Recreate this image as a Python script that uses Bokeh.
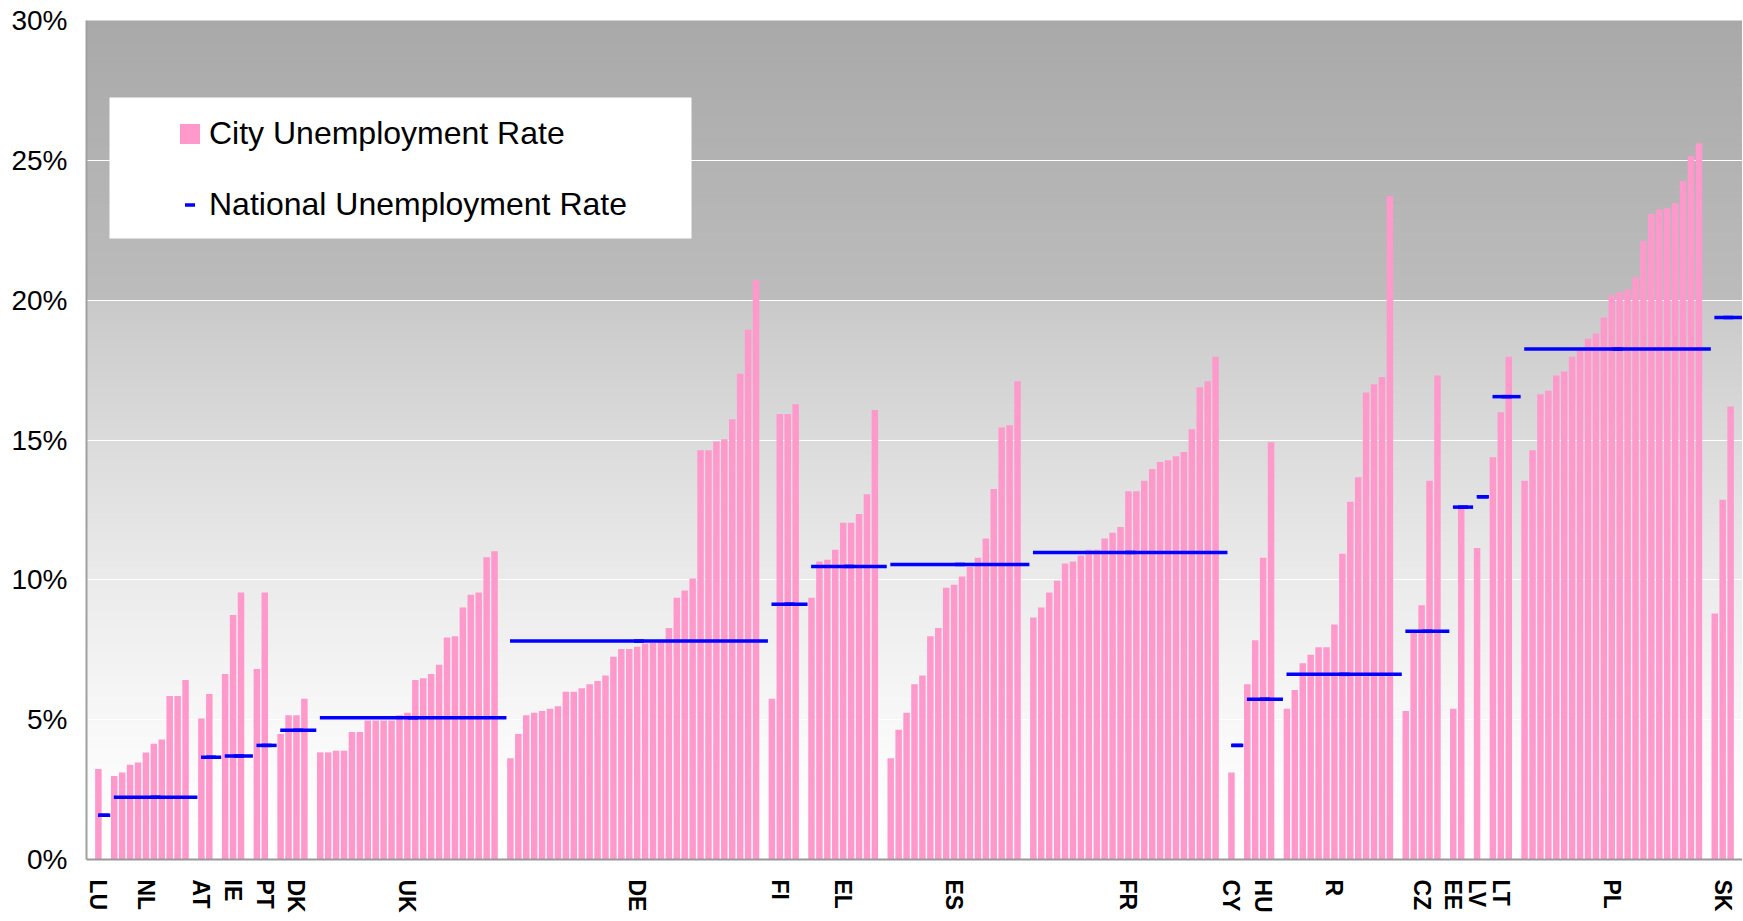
import numpy as np
from bokeh.plotting import figure
from bokeh.models import Range1d, FixedTicker, PrintfTickFormatter, Legend, LegendItem
from bokeh.embed import file_html
from bokeh.resources import INLINE

# ---------------- data ----------------
countries = ["LU", "NL", "AT", "IE", "PT", "DK", "UK", "DE", "FI", "EL", "ES",
             "FR", "CY", "HU", "R", "CZ", "EE", "LV", "LT", "PL", "SK"]

city_LU = [3.24]
city_NL = [2.99, 3.11, 3.39, 3.47, 3.83, 4.14, 4.29, 5.85, 5.85, 6.42]
city_AT = [5.04, 5.92]
city_IE = [6.63, 8.74, 9.55]
city_PT = [6.81, 9.55]
city_DK = [4.49, 5.16, 5.16, 5.75]
city_UK = [3.83, 3.83, 3.89, 3.89, 4.56, 4.56, 4.97, 4.97, 4.97, 4.97, 5.16, 5.25,
           6.42, 6.48, 6.63, 6.96, 7.94, 7.98, 9.01, 9.47, 9.55, 10.81, 11.02]
city_DE = [3.62, 4.49, 5.16, 5.25, 5.31, 5.39, 5.48, 6.00, 6.00, 6.12, 6.27, 6.38,
           6.58, 7.25, 7.53, 7.53, 7.61, 7.72, 7.75, 7.78, 8.28, 9.36, 9.62, 10.05,
           14.63, 14.63, 14.95, 15.03, 15.74, 17.37, 18.94, 20.72]
city_FI = [5.75, 15.93, 15.93, 16.28]
city_EL = [9.36, 10.66, 10.72, 11.08, 12.04, 12.04, 12.35, 13.06, 16.07]
city_ES = [3.62, 4.64, 5.25, 6.27, 6.58, 7.98, 8.28, 9.72, 9.82, 10.12, 10.47,
           10.79, 11.48, 13.25, 15.45, 15.53, 17.10]
city_FR = [8.65, 9.01, 9.55, 9.97, 10.58, 10.66, 10.87, 11.08, 11.08, 11.48, 11.68,
           11.89, 13.17, 13.17, 13.54, 13.96, 14.21, 14.28, 14.42, 14.57, 15.38,
           16.89, 17.10, 17.98]
city_CY = [3.11]
city_HU = [6.27, 7.84, 10.79, 14.92]
city_R = [5.39, 6.06, 7.02, 7.32, 7.59, 7.59, 8.40, 10.93, 12.79, 13.67, 16.70,
          16.99, 17.25, 23.72]
city_CZ = [5.31, 8.15, 9.09, 13.54, 17.31]
city_EE = [5.39, 12.60]
city_LV = [11.14]
city_LT = [14.38, 15.99, 17.98]
city_PL = [13.54, 14.63, 16.64, 16.76, 17.31, 17.45, 17.98, 18.20, 18.62, 18.81,
           19.38, 20.19, 20.28, 20.38, 20.82, 22.12, 23.08, 23.24, 23.29, 23.47,
           24.25, 25.15, 25.61]
city_SK = [8.80, 12.86, 16.20]

national_rates = [1.58, 2.23, 3.66, 3.70, 4.08, 4.62, 5.07, 7.81, 9.13, 10.48, 10.55,
                  10.98, 4.08, 5.73, 6.62, 8.16, 12.60, 12.97, 16.55, 18.25, 19.38]

# which city (index within its country) carries the country code on the axis
label_city = [0, 4, 0, 1, 1, 2, 11, 16, 1, 4, 8, 12, 0, 2, 6, 2, 0, 0, 1, 11, 1]

y_ticks = [0, 5, 10, 15, 20, 25, 30]

city_groups = [city_LU, city_NL, city_AT, city_IE, city_PT, city_DK, city_UK, city_DE,
               city_FI, city_EL, city_ES, city_FR, city_CY, city_HU, city_R, city_CZ,
               city_EE, city_LV, city_LT, city_PL, city_SK]

# ---------------- layout of categories ----------------
bar_x, bar_v = [], []
nat_x0, nat_x1, nat_y, nat_xm = [], [], [], []
tick_pos, tick_lab = [], []
pos = 1
for name, cities, nat, lab_i in zip(countries, city_groups, national_rates, label_city):
    start = pos
    for v in cities:
        bar_x.append(pos)
        bar_v.append(v)
        pos += 1
    last = pos - 1
    nat_x0.append(start - 0.05)
    nat_x1.append(last + 1.5)
    nat_xm.append((start + last + 1.45) / 2)
    nat_y.append(nat)
    tick_pos.append(start + lab_i)
    tick_lab.append(name)
    pos += 1
n_slots = pos

# ---------------- figure ----------------
W, H = 1742, 916
BL, BR, BT, BB = 86, 0, 20, 57
frame_w = W - BL - BR
frame_h = H - BT - BB
x0, x1 = -0.5, n_slots - 0.5
y0, y1 = 0, 30

p = figure(width=W, height=H, x_range=Range1d(x0, x1), y_range=Range1d(y0, y1),
           output_backend="svg", toolbar_location=None,
           min_border_left=BL, min_border_right=BR, min_border_top=BT, min_border_bottom=BB)
p.outline_line_color = None
p.background_fill_color = "white"
p.border_fill_color = "white"

# gradient background (style only)
step = 0.1
ys = np.arange(y0, y1, step)
def gray(y):
    if y >= 20:
        c = 188 - (y - 20) / 10 * (188 - 169)
    else:
        c = 255 - 54 * (y / 20) ** 1.4
    c = int(round(c))
    return "#%02x%02x%02x" % (c, c, c)
cols = [gray(y + step / 2) for y in ys]
p.quad(left=x0, right=x1, bottom=ys, top=ys + step + 0.03, fill_color=cols,
       line_color=None, level="image")

# grid
p.xgrid.visible = False
p.ygrid.ticker = FixedTicker(ticks=y_ticks)
p.ygrid.grid_line_color = "white"
p.ygrid.grid_line_width = 1.2

# bars and national lines
r_bar = p.vbar(x=bar_x, top=bar_v, bottom=0, width=0.82, fill_color="#FF99CC", line_color=None)
r_nat = p.segment(x0=nat_x0, y0=nat_y, x1=nat_x1, y1=nat_y, line_color="#0000FF", line_width=3.5)
# dash markers sitting on the national lines (used for the legend symbol)
r_dash = p.scatter(x=nat_xm, y=nat_y, marker="dash", size=10, line_color="#0000FF", line_width=3.5)

# legend white panel (position in screen px converted to data units)
def xd(px):
    return x0 + px * (x1 - x0) / frame_w
def yd(py):
    return y1 - py * (y1 - y0) / frame_h
p.quad(left=xd(23), right=xd(605), top=yd(77), bottom=yd(218), fill_color="white", line_color=None)

legend = Legend(items=[LegendItem(label="City Unemployment Rate", renderers=[r_bar]),
                       LegendItem(label="National Unemployment Rate", renderers=[r_dash])],
                location=(91, 635), orientation="vertical",
                glyph_width=25, glyph_height=25, label_height=40, label_width=20,
                spacing=31, padding=0, margin=0, label_standoff=7,
                label_text_font="Liberation Sans", label_text_font_size="32px",
                label_text_color="black",
                background_fill_alpha=0, border_line_alpha=0)
p.add_layout(legend)

# axes
p.yaxis.ticker = FixedTicker(ticks=y_ticks)
p.yaxis.formatter = PrintfTickFormatter(format="%d%%")
p.yaxis.major_label_text_font = "Liberation Sans"
p.yaxis.major_label_text_font_size = "28px"
p.yaxis.major_label_text_color = "black"
p.yaxis.major_tick_in = 0
p.yaxis.major_tick_out = 0
p.yaxis.minor_tick_in = 0
p.yaxis.minor_tick_out = 0
p.yaxis.major_label_standoff = 19
p.yaxis.axis_line_color = "#a0a0a0"
p.yaxis.axis_line_width = 2

p.xaxis.ticker = FixedTicker(ticks=tick_pos)
p.xaxis.major_label_overrides = {t: lab for t, lab in zip(tick_pos, tick_lab)}
p.xaxis.major_label_orientation = "vertical"
p.xaxis.major_label_text_font = "Liberation Sans"
p.xaxis.major_label_text_font_style = "bold"
p.xaxis.major_label_text_font_size = "23px"
p.xaxis.major_label_text_color = "black"
p.xaxis.major_tick_in = 0
p.xaxis.major_tick_out = 0
p.xaxis.minor_tick_in = 0
p.xaxis.minor_tick_out = 0
p.xaxis.major_label_standoff = 20
p.xaxis.axis_line_color = "#999999"
p.xaxis.axis_line_width = 2

open("out.html", "w").write(file_html(p, INLINE))
